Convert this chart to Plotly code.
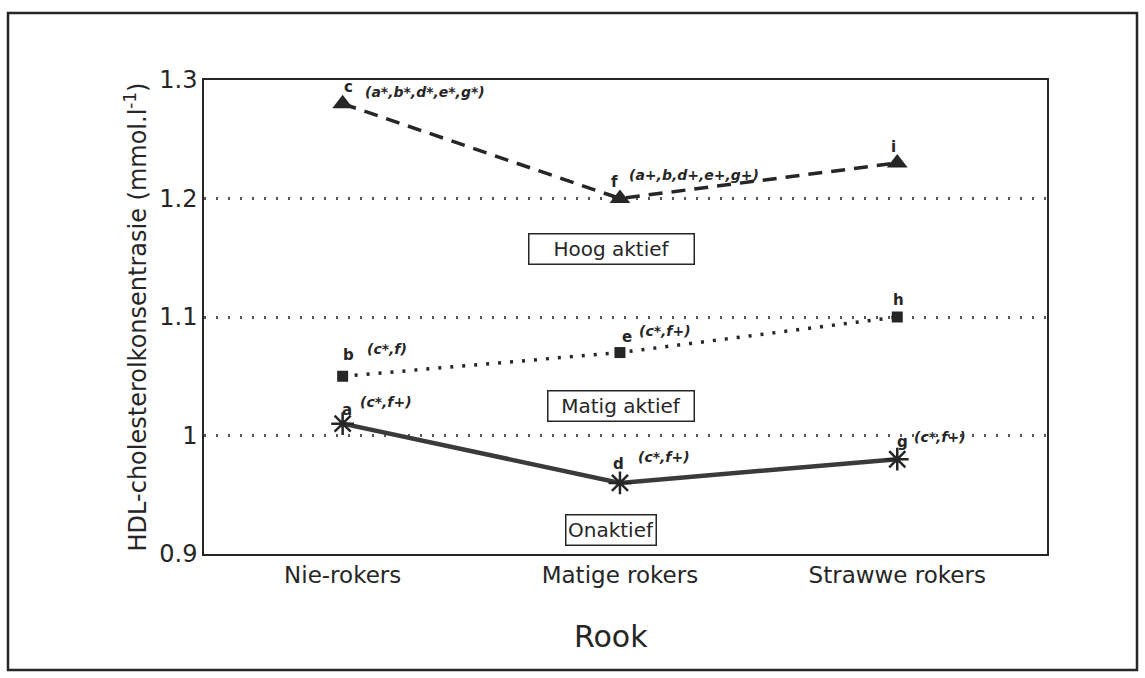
import plotly.graph_objects as go

# Smoking categories (x axis)
categories = ["Nie-rokers", "Matige rokers", "Strawwe rokers"]

# Mean HDL cholesterol (mmol/l) per physical activity group
hoog_aktief = [1.28, 1.20, 1.23]
matig_aktief = [1.05, 1.07, 1.10]
onaktief = [1.01, 0.96, 0.98]

# Significance letters and comparison notes per point
hoog_letters = ["c", "f", "i"]
hoog_notes = ["(a*,b*,d*,e*,g*)", "(a+,b,d+,e+,g+)", ""]
matig_letters = ["b", "e", "h"]
matig_notes = ["(c*,f)", "(c*,f+)", ""]
onaktief_letters = ["a", "d", "g"]
onaktief_notes = ["(c*,f+)", "(c*,f+)", "(c*,f+)"]

group_names = ["Hoog aktief", "Matig aktief", "Onaktief"]

y_ticks = [0.9, 1.0, 1.1, 1.2, 1.3]
y_ticktext = ["0.9", "1", "1.1", "1.2", "1.3"]

INK = "#262626"
FONT = "DejaVu Sans, Arial, sans-serif"

fig = go.Figure()

fig.add_trace(go.Scatter(
    x=categories, y=hoog_aktief, mode="lines+markers",
    line=dict(color=INK, width=3.5, dash="14px,9px"),
    marker=dict(symbol="triangle-up", size=18, color=INK),
    name=group_names[0], showlegend=False,
))
fig.add_trace(go.Scatter(
    x=categories, y=matig_aktief, mode="lines+markers",
    line=dict(color=INK, width=3.5, dash="3px,9px"),
    marker=dict(symbol="square", size=11, color=INK),
    name=group_names[1], showlegend=False,
))
fig.add_trace(go.Scatter(
    x=categories, y=onaktief, mode="lines+markers",
    line=dict(color="#3a3a3a", width=4.5),
    marker=dict(symbol="asterisk-open", size=19, color=INK,
                line=dict(color=INK, width=2.5)),
    name=group_names[2], showlegend=False,
))

# Pixel offsets of the letter / note relative to each point
letter_off = {
    "hoog": [(6, 17), (-5, 17), (-4, 16)],
    "matig": [(6, 21), (7, 16), (1, 17)],
    "onaktief": [(4, 14), (-1, 19), (5, 17)],
}
note_off = {
    "hoog": [(20, 12), (7, 24), (0, 0)],
    "matig": [(22, 27), (17, 22), (0, 0)],
    "onaktief": [(15, 22), (16, 26), (15, 22)],
}

series = [
    ("hoog", hoog_aktief, hoog_letters, hoog_notes),
    ("matig", matig_aktief, matig_letters, matig_notes),
    ("onaktief", onaktief, onaktief_letters, onaktief_notes),
]

annotations = []
for key, vals, letters, notes in series:
    for i, (cat, v) in enumerate(zip(categories, vals)):
        lx, ly = letter_off[key][i]
        annotations.append(dict(
            x=cat, y=v, xref="x", yref="y", text="<b>%s</b>" % letters[i],
            showarrow=False, xshift=lx, yshift=ly,
            font=dict(family=FONT, size=15, color=INK),
        ))
        if notes[i]:
            nx, ny = note_off[key][i]
            annotations.append(dict(
                x=cat, y=v, xref="x", yref="y",
                text="<b><i>%s</i></b>" % notes[i],
                showarrow=False, xanchor="left", xshift=nx, yshift=ny,
                font=dict(family=FONT, size=14, color=INK),
            ))

# Boxed group labels: value position, horizontal shift, box width
label_y = [1.157, 1.0246, 0.920]
label_dx = [-8, 1, -9]
label_w = [160, 141, 85]
for name, yv, dx, w in zip(group_names, label_y, label_dx, label_w):
    annotations.append(dict(
        x=categories[1], y=yv, xref="x", yref="y", text=name,
        showarrow=False, xshift=dx, width=w, height=25,
        font=dict(family=FONT, size=20, color=INK),
        bgcolor="white", bordercolor=INK, borderwidth=1.5, borderpad=2,
    ))

# Axis title along the bottom
annotations.append(dict(
    x=0.483, y=-0.175, xref="paper", yref="paper", text="Rook",
    showarrow=False, yanchor="middle",
    font=dict(family=FONT, size=30, color=INK),
))

L, R, T, B = 204, 98, 80, 124
W, H = 1145, 678
pw, ph = W - L - R, H - T - B

def px(x):
    return (x - L) / pw

def py(y):
    return (H - B - y) / ph

shapes = [
    # outer frame
    dict(type="rect", xref="paper", yref="paper",
         x0=px(8), x1=px(1137), y0=py(670), y1=py(13),
         line=dict(color=INK, width=2.5), layer="below"),
]

fig.update_layout(
    width=W, height=H,
    margin=dict(l=L, r=R, t=T, b=B),
    paper_bgcolor="white", plot_bgcolor="white",
    font=dict(family=FONT, color=INK),
    annotations=annotations, shapes=shapes,
    xaxis=dict(
        type="category", range=[-0.5, 2.54],
        showgrid=False, zeroline=False,
        showline=True, linecolor=INK, linewidth=1.5, mirror=True,
        ticks="", tickfont=dict(family=FONT, size=23, color=INK),
    ),
    yaxis=dict(
        range=[0.9, 1.3], tickvals=y_ticks, ticktext=y_ticktext,
        showgrid=True, gridcolor="#555555", gridwidth=2.5, griddash="2px,10px",
        zeroline=False,
        showline=True, linecolor=INK, linewidth=1.5, mirror=True,
        ticks="", ticklen=0, tickfont=dict(family=FONT, size=24, color=INK),
        title=dict(text="HDL-cholesterolkonsentrasie (mmol.l<sup>-1</sup>)",
                   font=dict(family=FONT, size=24, color=INK), standoff=6),
    ),
)

fig.write_html("out.html")
